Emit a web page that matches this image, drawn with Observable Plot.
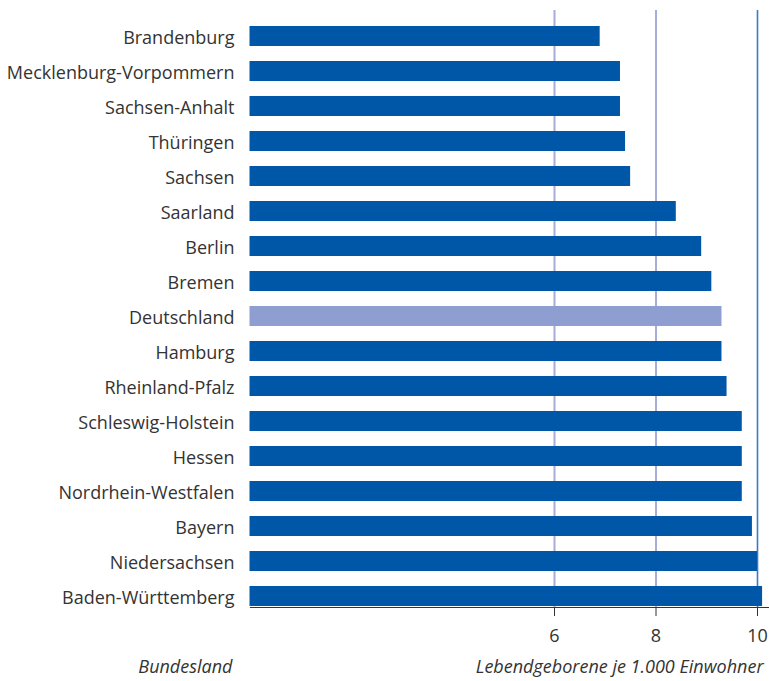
<!DOCTYPE html>
<html>
<head>
<meta charset="utf-8">
<script src="https://cdn.jsdelivr.net/npm/d3@7"></script>
<script src="https://cdn.jsdelivr.net/npm/@observablehq/plot@0.6"></script>
<style>
  body { margin: 0; background: #fff; }
  #chart svg { display: block; }
</style>
</head>
<body>
<div id="chart"></div>
<script>
const states = ["Brandenburg","Mecklenburg-Vorpommern","Sachsen-Anhalt","Thüringen","Sachsen","Saarland","Berlin","Bremen","Deutschland","Hamburg","Rheinland-Pfalz","Schleswig-Holstein","Hessen","Nordrhein-Westfalen","Bayern","Niedersachsen","Baden-Württemberg"];
const values = [6.9, 7.3, 7.3, 7.4, 7.5, 8.4, 8.9, 9.1, 9.3, 9.3, 9.4, 9.7, 9.7, 9.7, 9.9, 10.0, 10.1];
const xTicks = [6, 8, 10];
const lightGrid = [6, 8];
const strongGrid = [10];
const yCaption = "Bundesland";
const xCaption = "Lebendgeborene je 1.000 Einwohner";

const data = states.map((s, i) => ({state: s, value: values[i], national: s === "Deutschland"}));
const font = "'Open Sans', sans-serif";

const chart = Plot.plot({
  width: 769,
  height: 681,
  marginTop: 10,
  marginLeft: 250,
  marginRight: 0,
  marginBottom: 74,
  style: {fontFamily: font, fontSize: "18px", color: "#333", background: "#fff"},
  x: {domain: [0, 10], range: [249.5, 757], axis: null},
  y: {domain: states, range: [24, 607], paddingInner: 0.43, paddingOuter: 0, axis: null},
  marks: [
    Plot.ruleX(lightGrid, {stroke: "#a6aed8", strokeWidth: 2}),
    Plot.ruleX(strongGrid, {stroke: "#3a7ac8", strokeWidth: 1.6}),
    Plot.barX(data, {x: "value", y: "state", fill: d => d.national ? "#8f9ed0" : "#0057a7"}),
    Plot.frame({anchor: "bottom", stroke: "#333", strokeWidth: 1.2}),
    Plot.axisY({tickSize: 0, tickPadding: 16, fontSize: 18, fill: "#333", label: null, dy: 2}),
    Plot.axisX({ticks: xTicks, tickSize: 9, tickPadding: 13, fontSize: 18, label: null, stroke: "#333", fill: "#333", tickFormat: d => String(d)}),
    Plot.text([yCaption], {frameAnchor: "bottom-left", dx: -18, dy: 65, textAnchor: "end", fontStyle: "italic", fontSize: 18, fill: "#333"}),
    Plot.text([xCaption], {frameAnchor: "bottom-right", dx: -6, dy: 65, textAnchor: "end", fontStyle: "italic", fontSize: 18, fill: "#333"})
  ]
});
document.getElementById("chart").append(chart);
</script>
</body>
</html>
